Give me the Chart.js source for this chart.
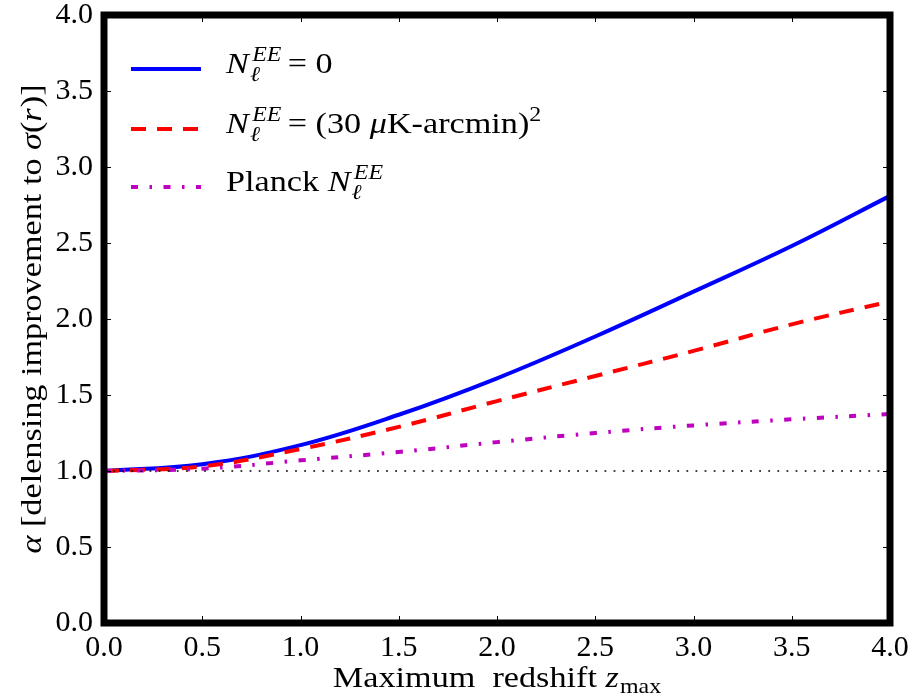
<!DOCTYPE html>
<html>
<head>
<meta charset="utf-8">
<script src="https://cdn.jsdelivr.net/npm/chart.js@4"></script>
<style>
  html, body { margin: 0; padding: 0; background: #fff; }
  #wrap { width: 912px; height: 694px; }
</style>
</head>
<body>
<div id="wrap"><canvas id="chart"></canvas></div>
<script>
// Data (z_max steps of 0.5)

var zMax = [0.0, 0.5, 1.0, 1.5, 2.0, 2.5, 3.0, 3.5, 4.0];
var alphaNoNoise = [1.00, 1.045, 1.17, 1.37, 1.61, 1.885, 2.18, 2.48, 2.81];
var alpha30uK = [1.00, 1.03, 1.145, 1.29, 1.46, 1.625, 1.79, 1.965, 2.115];
var alphaPlanck = [1.00, 1.015, 1.07, 1.125, 1.19, 1.25, 1.30, 1.34, 1.375];
var refX = [0.0, 4.0];
var refY = [1.0, 1.0];
var axisTicks = [0.0, 0.5, 1.0, 1.5, 2.0, 2.5, 3.0, 3.5, 4.0];

var FONT = '"Liberation Serif", "Times New Roman", serif';
var FS = 30;
var SX = 1.14; // text is a bit wider in the original (TeX font)

function pts(xs, ys) {
    return xs.map(function (x, i) { return {x: x, y: ys[i]}; });
}

// width of a run of text pieces
function runWidth(ctx, runs) {
    var x = 0, start = 0, maxX = 0;
    runs.forEach(function (r) {
        ctx.font = (r.it ? 'italic ' : '') + (r.size || FS) + 'px ' + FONT;
        var w = ctx.measureText(r.t).width;
        if (r.stack) { x = start; }
        start = x;
        x += w + (r.dx || 0);
        maxX = Math.max(maxX, x);
        x = r.stack ? maxX : x;
    });
    return maxX * SX;
}

// draw text pieces (italic / roman, sub / superscripts)
function drawRuns(ctx, runs, x0, y0) {
    var x = 0, start = 0, maxX = 0;
    ctx.save();
    ctx.translate(x0, y0);
    ctx.scale(SX, 1);
    ctx.textBaseline = 'alphabetic';
    ctx.textAlign = 'left';
    runs.forEach(function (r) {
        ctx.font = (r.it ? 'italic ' : '') + (r.size || FS) + 'px ' + FONT;
        var w = ctx.measureText(r.t).width;
        if (r.stack) { x = start; }
        start = x;
        ctx.fillText(r.t, x + (r.ox || 0), r.dy || 0);
        x += w + (r.dx || 0);
        maxX = Math.max(maxX, x);
        x = r.stack ? maxX : x;
    });
    ctx.restore();
}

function nEE() {
    return [
        {t: 'N', it: true, dx: 1},
        {t: '\u2113', it: true, size: 21, dy: 8},
        {t: 'EE', it: true, size: 21, dy: -12, stack: true, ox: 2}
    ];
}

var legendRows = [
    {color: '#0000ff', dash: [], y: 69, runs: nEE().concat([{t: ' = 0'}])},
    {color: '#ff0000', dash: [15, 11], y: 129, runs: nEE().concat([{t: ' = (30 '}, {t: '\u03bc', it: true}, {t: 'K-arcmin)'}, {t: '2', size: 21, dy: -12}])},
    {color: '#bf00bf', dash: [7, 11.5, 2.5, 11.5], y: 187, runs: [{t: 'Planck '}].concat(nEE())}
];

var framePlugin = {
    id: 'frame',
    afterDraw: function (chart) {
        var ctx = chart.ctx, a = chart.chartArea;
        var xs = chart.scales.x, ys = chart.scales.y;
        ctx.save();
        ctx.fillStyle = '#000';
        ctx.strokeStyle = '#000';

        // inward ticks on all four sides
        ctx.lineWidth = 1;
        axisTicks.forEach(function (v) {
            var px = Math.round(xs.getPixelForValue(v)) + 0.5;
            var py = Math.round(ys.getPixelForValue(v)) + 0.5;
            ctx.beginPath();
            ctx.moveTo(px, a.bottom); ctx.lineTo(px, a.bottom - 7);
            ctx.moveTo(px, a.top); ctx.lineTo(px, a.top + 7);
            ctx.moveTo(a.left, py); ctx.lineTo(a.left + 7, py);
            ctx.moveTo(a.right, py); ctx.lineTo(a.right - 7, py);
            ctx.stroke();
        });

        // thick frame
        ctx.lineWidth = 7;
        ctx.strokeRect(a.left, a.top, a.right - a.left, a.bottom - a.top);

        // legend
        legendRows.forEach(function (row) {
            ctx.save();
            ctx.strokeStyle = row.color;
            ctx.lineWidth = 4;
            ctx.setLineDash(row.dash);
            ctx.beginPath();
            ctx.moveTo(131, row.y);
            ctx.lineTo(201, row.y);
            ctx.stroke();
            ctx.restore();
            drawRuns(ctx, row.runs, 226, row.y + 4);
        });

        // x axis title
        var xRuns = [
            {t: 'Maximum  redshift '},
            {t: 'z', it: true, dx: 1},
            {t: 'max', size: 21, dy: 6}
        ];
        var wx = runWidth(ctx, xRuns);
        drawRuns(ctx, xRuns, (a.left + a.right) / 2 - wx / 2, 687);

        // y axis title
        var yRuns = [
            {t: '\u03b1', it: true},
            {t: ' [delensing improvement to '},
            {t: '\u03c3', it: true},
            {t: '('},
            {t: 'r', it: true, dx: 1},
            {t: ')]'}
        ];
        var wy = runWidth(ctx, yRuns);
        ctx.translate(41, (a.top + a.bottom) / 2);
        ctx.rotate(-Math.PI / 2);
        drawRuns(ctx, yRuns, -wy / 2, 0);
        ctx.restore();
    }
};

var config = {
    type: 'line',
    data: {
        datasets: [{
            data: pts(refX, refY),
            borderColor: '#000',
            borderWidth: 1.6,
            borderDash: [1.8, 7.3],
            pointRadius: 0
        }, {
            data: pts(zMax, alphaPlanck),
            borderColor: '#bf00bf',
            borderWidth: 4,
            borderDash: [7, 11.5, 2.5, 11.5],
            tension: 0.4,
            pointRadius: 0
        }, {
            data: pts(zMax, alpha30uK),
            borderColor: '#ff0000',
            borderWidth: 4,
            borderDash: [15, 11],
            tension: 0.4,
            pointRadius: 0
        }, {
            data: pts(zMax, alphaNoNoise),
            borderColor: '#0000ff',
            borderWidth: 4,
            tension: 0.4,
            pointRadius: 0
        }]
    },
    options: {
        responsive: true,
        maintainAspectRatio: false,
        animation: false,
        layout: {
            padding: {top: 15, right: 22, left: 0, bottom: 0}
        },
        plugins: {
            legend: {display: false},
            tooltip: {enabled: false}
        },
        scales: {
            x: {
                type: 'linear',
                min: 0,
                max: 4,
                afterBuildTicks: function (s) { s.ticks = axisTicks.map(function (v) { return {value: v}; }); },
                grid: {display: false, drawTicks: false},
                border: {display: false},
                ticks: {
                    color: '#000',
                    padding: 7,
                    maxRotation: 0,
                    font: {family: FONT, size: FS},
                    callback: function (v) { return Number(v).toFixed(1); }
                },
                afterFit: function (s) {
                    s.height = 71;
                    s.paddingLeft = 0;
                    s.paddingRight = 0;
                }
            },
            y: {
                type: 'linear',
                min: 0,
                max: 4,
                afterBuildTicks: function (s) { s.ticks = axisTicks.map(function (v) { return {value: v}; }); },
                grid: {display: false, drawTicks: false},
                border: {display: false},
                ticks: {
                    color: '#000',
                    padding: 11,
                    font: {family: FONT, size: FS},
                    callback: function (v) { return Number(v).toFixed(1); }
                },
                afterFit: function (s) {
                    s.width = 104;
                    s.paddingTop = 0;
                    s.paddingBottom = 0;
                }
            }
        }
    },
    plugins: [framePlugin]
};

window.onload = function () {
    var ctx = document.getElementById('chart').getContext('2d');
    window.myChart = new Chart(ctx, config);
};
</script>
</body>
</html>
